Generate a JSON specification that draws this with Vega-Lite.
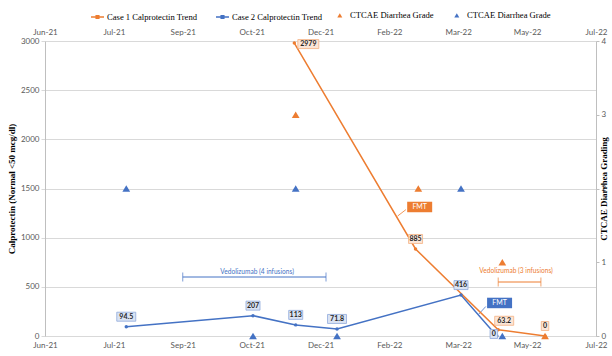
{
  "$schema": "https://vega.github.io/schema/vega-lite/v6.json",
  "width": 551,
  "height": 295,
  "autosize": {"type": "none"},
  "padding": {"left": 45, "top": 41, "right": 16, "bottom": 20},
  "background": "white",
  "config": {"view": {"stroke": null}},
  "datasets": {
    "calpro": [
      {"date": "2021-07-30", "value": 94.5, "label": "94.5", "case": "Case 2 Calprotectin Trend"},
      {"date": "2021-10-30", "value": 207, "label": "207", "case": "Case 2 Calprotectin Trend"},
      {"date": "2021-11-30", "value": 113, "label": "113", "case": "Case 2 Calprotectin Trend"},
      {"date": "2021-12-30", "value": 71.8, "label": "71.8", "case": "Case 2 Calprotectin Trend"},
      {"date": "2022-03-30", "value": 416, "label": "416", "case": "Case 2 Calprotectin Trend"},
      {"date": "2022-04-25", "value": 0, "label": "0", "case": "Case 2 Calprotectin Trend"},
      {"date": "2021-11-29", "value": 2979, "label": "2979", "case": "Case 1 Calprotectin Trend"},
      {"date": "2022-02-25", "value": 885, "label": "885", "case": "Case 1 Calprotectin Trend"},
      {"date": "2022-04-26", "value": 63.2, "label": "63.2", "case": "Case 1 Calprotectin Trend"},
      {"date": "2022-05-30", "value": 0, "label": "0", "case": "Case 1 Calprotectin Trend"}
    ],
    "grades": [
      {"date": "2021-11-30", "grade": 3, "series": "c1"},
      {"date": "2022-02-27", "grade": 2, "series": "c1"},
      {"date": "2022-04-29", "grade": 1, "series": "c1"},
      {"date": "2022-05-30", "grade": 0, "series": "c1"},
      {"date": "2021-07-30", "grade": 2, "series": "c2"},
      {"date": "2021-10-30", "grade": 0, "series": "c2"},
      {"date": "2021-11-30", "grade": 2, "series": "c2"},
      {"date": "2021-12-30", "grade": 0, "series": "c2"},
      {"date": "2022-03-30", "grade": 2, "series": "c2"},
      {"date": "2022-04-29", "grade": 0, "series": "c2"}
    ],
    "ann": [
      {"start": "2021-09-09", "end": "2021-12-22", "y": 600, "mid": "2021-11-02", "ty": 651, "label": "Vedolizumab (4 infusions)", "case": "Case 2 Calprotectin Trend"},
      {"start": "2022-04-26", "end": "2022-05-27", "y": 549, "mid": "2022-05-09", "ty": 661, "label": "Vedolizumab (3 infusions)", "case": "Case 1 Calprotectin Trend"}
    ],
    "fmt": [
      {"date": "2022-02-28", "value": 1312, "label": "FMT", "case": "Case 1 Calprotectin Trend"},
      {"date": "2022-04-27", "value": 336, "label": "FMT", "case": "Case 2 Calprotectin Trend"}
    ],
    "leaders": [
      {"x1": "2022-02-12", "y1": 1220, "x2": "2022-02-18", "y2": 1285, "case": "Case 1 Calprotectin Trend"},
      {"x1": "2022-04-12", "y1": 224, "x2": "2022-04-17", "y2": 300, "case": "Case 2 Calprotectin Trend"}
    ]
  },
  "layer": [
    {
      "encoding": {
        "x": {"field": "date", "type": "temporal",
          "scale": {"type": "utc", "domain": [1622505600000, 1657065600000]},
          "axis": {"orient": "bottom", "title": null, "format": "%b-%y",
            "values": [1622505600000, 1626825600000, 1631145600000, 1635465600000, 1639785600000, 1644105600000, 1648425600000, 1652745600000, 1657065600000],
            "grid": false, "domain": true, "domainColor": "#d9d9d9", "ticks": false, "labelPadding": 5,
            "labelFont": "Lato", "labelFontSize": 8, "labelColor": "#595959", "labelFlush": false}},
        "y": {"field": "value", "type": "quantitative",
          "scale": {"domain": [0, 3000]},
          "axis": {"orient": "left", "values": [0, 500, 1000, 1500, 2000, 2500, 3000], "format": "d", "grid": true, "gridColor": "#d9d9d9",
            "domain": true, "domainColor": "#bfbfbf", "ticks": true, "tickSize": 4, "tickColor": "#d9d9d9", "labelPadding": 2,
            "labelFont": "Lato", "labelFontSize": 8, "labelColor": "#595959",
            "title": "Calprotectin (Normal <50 mcg/dl)", "titleFont": "Liberation Serif", "titleFontWeight": "bold",
            "titleFontSize": 9, "titleColor": "#000000", "titlePadding": 4}}
      },
      "layer": [
        {
          "data": {"name": "ann"},
          "mark": {"type": "rule", "strokeWidth": 1},
          "encoding": {
            "x": {"field": "start", "type": "temporal", "scale": {"type": "utc", "domain": [1622505600000, 1657065600000]}},
            "x2": {"field": "end"},
            "y": {"field": "y", "type": "quantitative", "scale": {"domain": [0, 3000]}},
            "stroke": {"condition": {"test": "datum.case=='Case 1 Calprotectin Trend'", "value": "#ed7d31"}, "value": "#4472c4"}
          }
        },
        {
          "data": {"name": "ann"},
          "mark": {"type": "tick", "orient": "vertical", "size": 9, "thickness": 1},
          "encoding": {
            "x": {"field": "start", "type": "temporal", "scale": {"type": "utc", "domain": [1622505600000, 1657065600000]}},
            "y": {"field": "y", "type": "quantitative", "scale": {"domain": [0, 3000]}},
            "color": {"condition": {"test": "datum.case=='Case 1 Calprotectin Trend'", "value": "#ed7d31"}, "value": "#4472c4"}
          }
        },
        {
          "data": {"name": "ann"},
          "mark": {"type": "tick", "orient": "vertical", "size": 9, "thickness": 1},
          "encoding": {
            "x": {"field": "end", "type": "temporal", "scale": {"type": "utc", "domain": [1622505600000, 1657065600000]}},
            "y": {"field": "y", "type": "quantitative", "scale": {"domain": [0, 3000]}},
            "color": {"condition": {"test": "datum.case=='Case 1 Calprotectin Trend'", "value": "#ed7d31"}, "value": "#4472c4"}
          }
        },
        {
          "data": {"name": "ann"},
          "mark": {"type": "text", "font": "Lato", "fontSize": 6.6, "align": "center", "baseline": "middle"},
          "encoding": {
            "x": {"field": "mid", "type": "temporal", "scale": {"type": "utc", "domain": [1622505600000, 1657065600000]}},
            "y": {"field": "ty", "type": "quantitative", "scale": {"domain": [0, 3000]}},
            "text": {"field": "label"},
            "color": {"condition": {"test": "datum.case=='Case 1 Calprotectin Trend'", "value": "#ed7d31"}, "value": "#4472c4"}
          }
        },
        {
          "data": {"name": "leaders"},
          "mark": {"type": "rule", "strokeWidth": 0.8},
          "encoding": {
            "x": {"field": "x1", "type": "temporal", "scale": {"type": "utc", "domain": [1622505600000, 1657065600000]}},
            "x2": {"field": "x2"},
            "y": {"field": "y1", "type": "quantitative", "scale": {"domain": [0, 3000]}},
            "y2": {"field": "y2"},
            "stroke": {"condition": {"test": "datum.case=='Case 1 Calprotectin Trend'", "value": "#ed7d31"}, "value": "#4472c4"}
          }
        },
        {
          "data": {"name": "calpro"},
          "mark": {"type": "line", "strokeWidth": 1.5},
          "encoding": {
            "color": {"field": "case", "type": "nominal",
              "scale": {"domain": ["Case 1 Calprotectin Trend", "Case 2 Calprotectin Trend"], "range": ["#ed7d31", "#4472c4"]},
              "legend": {"title": null, "orient": "none", "legendX": 45, "legendY": -32, "direction": "horizontal", "columns": 2,
                "symbolType": "M-1,0H1M-0.2,-0.2H0.2V0.2H-0.2Z", "symbolSize": 169, "symbolStrokeWidth": 1.5,
                "labelOffset": 2, "columnPadding": 15, "labelFont": "Liberation Serif", "labelFontSize": 8.6, "labelColor": "#000000",
                "labelLimit": 300,
                "encode": {"symbols": {"update": {"stroke": {"scale": "color", "field": "value"}, "fill": {"scale": "color", "field": "value"}}}}}}
          }
        },
        {
          "data": {"name": "calpro"},
          "mark": {"type": "point", "shape": "circle", "filled": true, "size": 12, "opacity": 1},
          "encoding": {
            "color": {"field": "case", "type": "nominal"}
          }
        },
        {
          "data": {"name": "calpro"},
          "transform": [{"filter": "datum.label=='94.5'||datum.label=='207'||datum.label=='113'||datum.label=='71.8'||datum.label=='416'||datum.label=='885'||(datum.label=='0'&&datum.case=='Case 1 Calprotectin Trend')"}],
          "mark": {"type": "point", "filled": true, "size": 100, "yOffset": -10, "strokeWidth": 0.8, "opacity": 1},
          "encoding": {
            "shape": {"field": "label", "type": "nominal", "legend": null,
              "scale": {"domain": ["2979", "94.5", "71.8", "63.2", "207", "113", "416", "885", "0", "FMT"],
                "range": ["M-2.1,-0.9H2.1V0.9H-2.1Z", "M-1.9,-0.9H1.9V0.9H-1.9Z", "M-1.9,-0.9H1.9V0.9H-1.9Z", "M-1.9,-0.9H1.9V0.9H-1.9Z", "M-1.4,-0.9H1.4V0.9H-1.4Z", "M-1.4,-0.9H1.4V0.9H-1.4Z", "M-1.4,-0.9H1.4V0.9H-1.4Z", "M-1.4,-0.9H1.4V0.9H-1.4Z", "M-0.75,-0.9H0.75V0.9H-0.75Z", "M-2.5,-1.05H2.5V1.05H-2.5Z"]}},
            "fill": {"condition": {"test": "datum.case=='Case 1 Calprotectin Trend'", "value": "#fbe5d6"}, "value": "#dae3f3"},
            "stroke": {"condition": {"test": "datum.case=='Case 1 Calprotectin Trend'", "value": "#f4b183"}, "value": "#8faadc"}
          }
        },
        {
          "data": {"name": "calpro"},
          "transform": [{"filter": "datum.label=='94.5'||datum.label=='207'||datum.label=='113'||datum.label=='71.8'||datum.label=='416'||datum.label=='885'||(datum.label=='0'&&datum.case=='Case 1 Calprotectin Trend')"}],
          "mark": {"type": "text", "dy": -10, "font": "Lato", "fontSize": 7, "fontWeight": "bold", "color": "#262626", "align": "center", "baseline": "middle"},
          "encoding": {"text": {"field": "label"}}
        },
        {
          "data": {"name": "calpro"},
          "transform": [{"filter": "datum.label=='63.2'"}],
          "mark": {"type": "point", "filled": true, "size": 100, "xOffset": 6, "yOffset": -9, "strokeWidth": 0.8, "opacity": 1},
          "encoding": {
            "shape": {"field": "label", "type": "nominal", "legend": null},
            "fill": {"value": "#fbe5d6"},
            "stroke": {"value": "#f4b183"}
          }
        },
        {
          "data": {"name": "calpro"},
          "transform": [{"filter": "datum.label=='63.2'"}],
          "mark": {"type": "text", "dx": 6, "dy": -9, "font": "Lato", "fontSize": 7, "fontWeight": "bold", "color": "#262626", "align": "center", "baseline": "middle"},
          "encoding": {"text": {"field": "label"}}
        },
        {
          "data": {"name": "calpro"},
          "transform": [{"filter": "datum.label=='2979'"}],
          "mark": {"type": "point", "filled": true, "size": 100, "xOffset": 14, "yOffset": 1, "strokeWidth": 0.8, "opacity": 1},
          "encoding": {
            "shape": {"field": "label", "type": "nominal", "legend": null},
            "fill": {"value": "#fbe5d6"},
            "stroke": {"value": "#f4b183"}
          }
        },
        {
          "data": {"name": "calpro"},
          "transform": [{"filter": "datum.label=='2979'"}],
          "mark": {"type": "text", "dx": 14, "dy": 1, "font": "Lato", "fontSize": 7, "fontWeight": "bold", "color": "#262626", "align": "center", "baseline": "middle"},
          "encoding": {"text": {"field": "label"}}
        },
        {
          "data": {"name": "calpro"},
          "transform": [{"filter": "datum.label=='0'&&datum.case=='Case 2 Calprotectin Trend'"}],
          "mark": {"type": "point", "filled": true, "size": 100, "xOffset": -3, "yOffset": -2, "strokeWidth": 0.8, "opacity": 1},
          "encoding": {
            "shape": {"field": "label", "type": "nominal", "legend": null},
            "fill": {"value": "#dae3f3"},
            "stroke": {"value": "#8faadc"}
          }
        },
        {
          "data": {"name": "calpro"},
          "transform": [{"filter": "datum.label=='0'&&datum.case=='Case 2 Calprotectin Trend'"}],
          "mark": {"type": "text", "dx": -3, "dy": -2, "font": "Lato", "fontSize": 7, "fontWeight": "bold", "color": "#262626", "align": "center", "baseline": "middle"},
          "encoding": {"text": {"field": "label"}}
        },
        {
          "data": {"name": "fmt"},
          "mark": {"type": "point", "filled": true, "size": 100, "opacity": 1, "strokeWidth": 0},
          "encoding": {
            "shape": {"field": "label", "type": "nominal", "legend": null},
            "fill": {"condition": {"test": "datum.case=='Case 1 Calprotectin Trend'", "value": "#ed7d31"}, "value": "#4472c4"}
          }
        },
        {
          "data": {"name": "fmt"},
          "mark": {"type": "text", "font": "Lato", "fontSize": 7, "color": "#ffffff", "align": "center", "baseline": "middle"},
          "encoding": {"text": {"field": "label"}}
        }
      ]
    },
    {
      "data": {"name": "grades"},
      "mark": {"type": "point", "shape": "triangle-up", "filled": true, "size": 60, "opacity": 1},
      "encoding": {
        "x": {"field": "date", "type": "temporal",
          "scale": {"type": "utc", "domain": [1622505600000, 1657065600000]},
          "axis": {"orient": "top", "title": null, "format": "%b-%y",
            "values": [1622505600000, 1626825600000, 1631145600000, 1635465600000, 1639785600000, 1644105600000, 1648425600000, 1652745600000, 1657065600000],
            "grid": false, "domain": false, "ticks": false, "labelPadding": 5,
            "labelFont": "Lato", "labelFontSize": 8, "labelColor": "#595959", "labelFlush": false}},
        "y": {"field": "grade", "type": "quantitative",
          "scale": {"domain": [0, 4]},
          "axis": {"orient": "right", "values": [0, 1, 2, 3, 4], "format": "d", "grid": false,
            "domain": true, "domainColor": "#bfbfbf", "ticks": true, "tickSize": 3, "tickColor": "#bfbfbf", "labelPadding": 2,
            "labelFont": "Lato", "labelFontSize": 8, "labelColor": "#595959",
            "title": "CTCAE Diarrhea Grading", "titleAngle": 270, "titleFont": "Liberation Serif", "titleFontWeight": "bold",
            "titleFontSize": 9, "titleColor": "#000000", "titlePadding": 3}},
        "fill": {"field": "series", "type": "nominal",
          "scale": {"domain": ["c1", "c2"], "range": ["#ed7d31", "#4472c4"]},
          "legend": {"title": null, "orient": "none", "legendX": 290.5, "legendY": -30, "direction": "horizontal", "columns": 2,
            "symbolType": "triangle-up", "symbolSize": 25, "labelExpr": "'CTCAE Diarrhea Grade'",
            "labelOffset": 6, "columnPadding": 18, "labelFont": "Liberation Serif", "labelFontSize": 8.6, "labelColor": "#000000", "labelLimit": 300}}
      }
    }
  ],
  "resolve": {"scale": {"x": "independent", "y": "independent"}}
}
